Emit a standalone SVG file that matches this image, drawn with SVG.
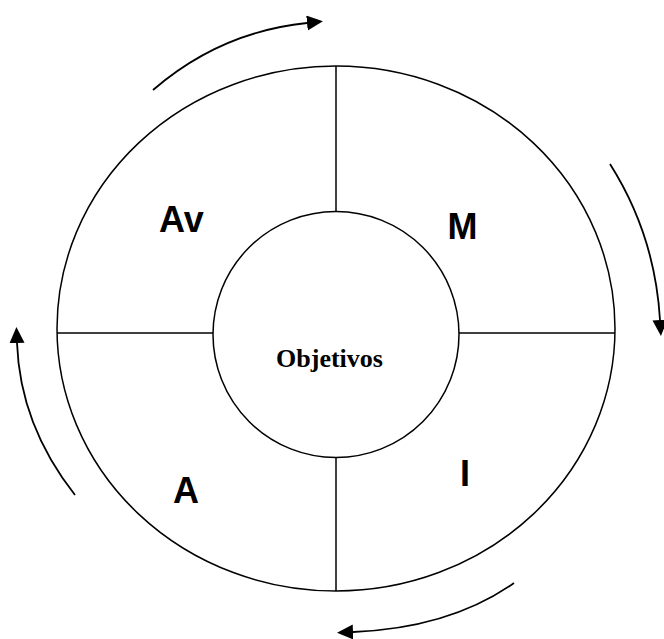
<svg xmlns="http://www.w3.org/2000/svg" width="664" height="639" viewBox="0 0 664 639">
<style>
.ln{fill:none;stroke:#000;stroke-width:1.5}
.ar{fill:none;stroke:#000;stroke-width:1.8;marker-end:url(#ah)}
.lb{font-family:"Liberation Sans",Arial,sans-serif;font-weight:bold;font-size:36px;fill:#000}
.ob{font-family:"Liberation Serif","Times New Roman",serif;font-weight:bold;font-size:26px;fill:#000}
</style>
<defs>
<marker id="ah" markerUnits="userSpaceOnUse" markerWidth="18" markerHeight="16" refX="0" refY="7.5" orient="auto">
<path d="M0,0 L16,7.5 L0,15 z" fill="#000"/>
</marker>
</defs>
<rect width="664" height="639" fill="#fff"/>
<g id="outer">
<ellipse class="ln" cx="336" cy="328.5" rx="279" ry="262.5"/>
</g>
<g id="dividers">
<line class="ln" x1="336" y1="66" x2="336" y2="212"/>
<line class="ln" x1="336" y1="457" x2="336" y2="591"/>
<line class="ln" x1="57" y1="333" x2="213" y2="333"/>
<line class="ln" x1="459" y1="333" x2="615" y2="333"/>
</g>
<g id="center">
<circle class="ln" cx="336" cy="334.5" r="123" fill="#fff"/>
<text class="ob" x="329.5" y="367" text-anchor="middle">Objetivos</text>
</g>
<g id="q-av"><text class="lb" x="159" y="232">Av</text></g>
<g id="q-m"><text class="lb" x="447.5" y="239">M</text></g>
<g id="q-a"><text class="lb" x="173" y="503">A</text></g>
<g id="q-i"><text class="lb" x="460" y="486">I</text></g>
<g id="connectors">
<path class="ar" d="M153,90 Q220,32 307,23"/>
<path class="ar" d="M610,164 Q655,235 660,320"/>
<path class="ar" d="M75,495 Q20,425 17,343"/>
<path class="ar" d="M514,583 Q450,628 353,632"/>
</g>
</svg>
